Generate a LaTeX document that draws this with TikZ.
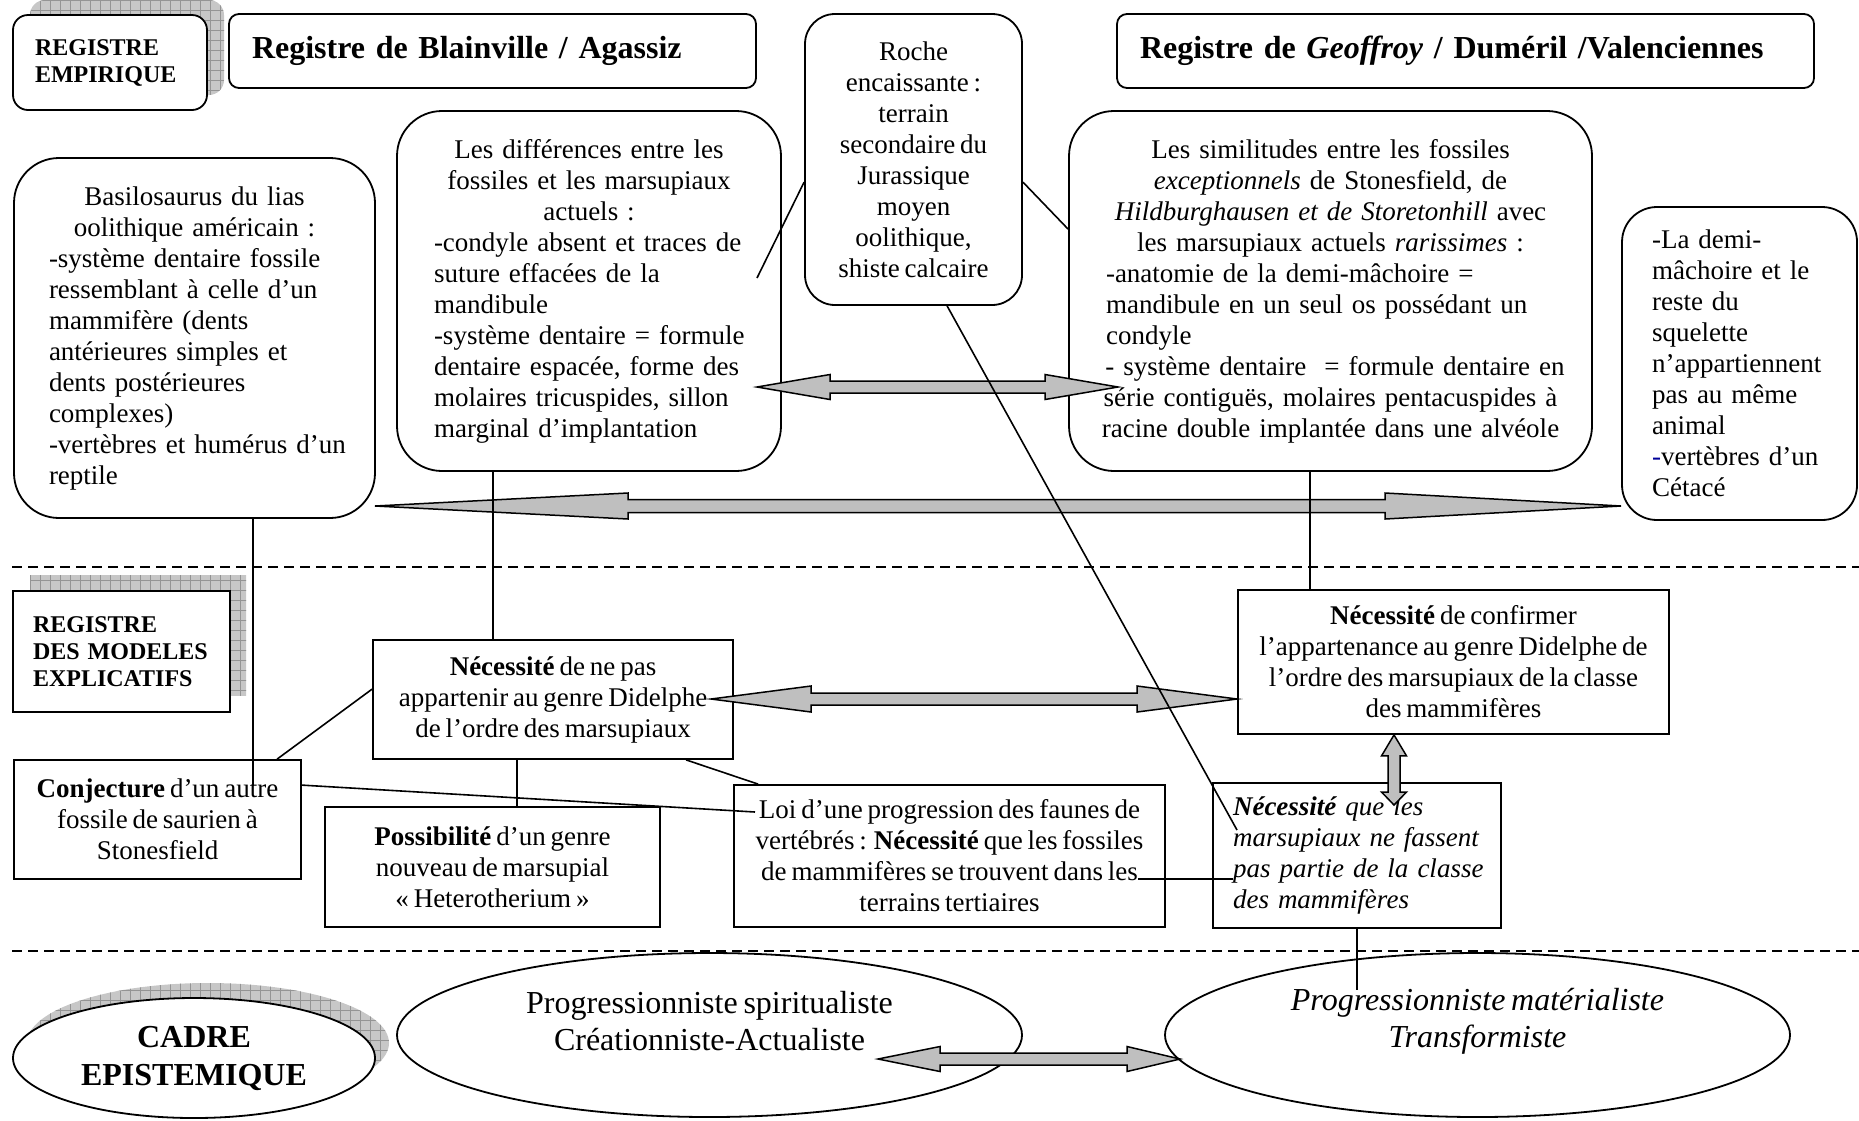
\documentclass[tikz,border=0pt]{standalone}
\usepackage{fontspec}
\setmainfont[WordSpace=0.72]{Liberation Serif}
\usetikzlibrary{calc,shapes.geometric}
\newcommand{\lnC}[1]{\makebox[\linewidth][c]{#1}}
\newcommand{\lnL}[1]{\makebox[\linewidth][l]{#1}}
\newcommand{\hfat}[6]{%
  \draw[fat] (#1) -- ($(#1)+(#3,-#5)$) -- ($(#1)+(#3,-#6)$) -- ($(#2)+(-#4,-#6)$) -- ($(#2)+(-#4,-#5)$) -- (#2)
    -- ($(#2)+(-#4,#5)$) -- ($(#2)+(-#4,#6)$) -- ($(#1)+(#3,#6)$) -- ($(#1)+(#3,#5)$) -- cycle;}
\newcommand{\vfat}[6]{%
  \draw[fat] (#1) -- ($(#1)+(#5,#3)$) -- ($(#1)+(#6,#3)$) -- ($(#2)+(#6,-#4)$) -- ($(#2)+(#5,-#4)$) -- (#2)
    -- ($(#2)+(-#5,-#4)$) -- ($(#2)+(-#6,-#4)$) -- ($(#1)+(-#6,#3)$) -- ($(#1)+(-#5,#3)$) -- cycle;}
\begin{document}
\begin{tikzpicture}[x=1pt,y=-1pt,
  txt/.style={font=\fontsize{27}{31}\selectfont},
  lab/.style={font=\fontsize{24}{27}\selectfont\bfseries},
  head/.style={font=\fontsize{32}{37}\selectfont\bfseries},
  big/.style={font=\fontsize{32}{37}\selectfont},
  rbox/.style={draw, line width=1.8pt, fill=white, inner sep=0pt, rounded corners=#1},
  rbox/.default=20pt,
  sbox/.style={draw, line width=1.8pt, fill=white, inner sep=0pt},
  ell/.style={draw, ellipse, line width=1.8pt, fill=white, inner sep=0pt},
  conn/.style={line width=1.6pt},
  fat/.style={draw, line width=1.5pt, fill=black!25, line join=miter},
  sepline/.style={line width=1.5pt, dash pattern=on 10pt off 6pt},
  shgrid/.style={draw=black!42, line width=0.5pt},
]
\useasboundingbox (0,0) rectangle (1859,1120);

% ---- shadows of the register labels
\begin{scope}
  \clip[rounded corners=15pt] (30,0) rectangle (224,95);
  \fill[black!22] (0,-20) rectangle (300,200);
  \draw[shgrid, step=10pt] (20,-20) grid (240,110);
\end{scope}
\begin{scope}
  \clip (30,575) rectangle (246,695);
  \fill[black!22] (0,560) rectangle (300,720);
  \draw[shgrid, step=10pt] (20,560) grid (260,710);
\end{scope}
\begin{scope}
  \clip (208,1043) ellipse [x radius=181, y radius=60];
  \fill[black!22] (0,960) rectangle (420,1120);
  \draw[shgrid, step=10pt] (0,960) grid (420,1120);
\end{scope}

% ---- top row
\node[rbox=15pt, lab, minimum width=194pt, minimum height=95pt, text width=150pt, align=left] (emp) at (110,62.5)
  {REGISTRE\\EMPIRIQUE\\[-4pt]};
\node[rbox=10pt, head, minimum width=527pt, minimum height=74pt, text width=481pt, align=left] (blain) at (492.5,51) {Registre de Blainville / Agassiz};
\node[rbox=30pt, txt, minimum width=217pt, minimum height=291pt, align=center] (roche) at (913.5,159.5)
  {Roche\\encaissante :\\terrain\\secondaire du\\Jurassique\\moyen\\oolithique,\\shiste calcaire};
\node[rbox=10pt, head, minimum width=697pt, minimum height=74pt, text width=651pt, align=left] (geof) at (1465.5,51)
  {Registre de \textit{Geoffroy} / Duméril /Valenciennes};

% ---- empirical register
\node[rbox=45pt, txt, minimum width=361pt, minimum height=360pt, text width=291pt, align=left] (basil) at (194.5,338)
  {\lnC{Basilosaurus du lias}\\
   \lnC{oolithique américain :}\\
   \lnL{-système dentaire fossile}\\
   \lnL{ressemblant à celle d’un}\\
   \lnL{mammifère (dents}\\
   \lnL{antérieures simples et}\\
   \lnL{dents postérieures}\\
   \lnL{complexes)}\\
   \lnL{-vertèbres et humérus d’un}\\
   \lnL{reptile}};
\node[rbox=45pt, txt, minimum width=384pt, minimum height=360pt, text width=310pt, align=left] (diff) at (589,291)
  {\lnC{Les différences entre les}\\
   \lnC{fossiles et les marsupiaux}\\
   \lnC{actuels :}\\
   \lnL{-condyle absent et traces de}\\
   \lnL{suture effacées de la}\\
   \lnL{mandibule}\\
   \lnL{-système dentaire = formule}\\
   \lnL{dentaire espacée, forme des}\\
   \lnL{molaires tricuspides, sillon}\\
   \lnL{marginal d’implantation}};
\node[rbox=45pt, txt, minimum width=523pt, minimum height=360pt, text width=449pt, align=left] (simil) at (1330.5,291)
  {\lnC{Les similitudes entre les fossiles}\\
   \lnC{\textit{exceptionnels} de Stonesfield, de}\\
   \lnC{\textit{Hildburghausen et de Storetonhill} avec}\\
   \lnC{les marsupiaux actuels \textit{rarissimes} :}\\
   \lnL{-anatomie de la demi-mâchoire =}\\
   \lnL{mandibule en un seul os possédant un}\\
   \lnL{condyle}\\
   \lnC{\ - système dentaire \ = formule dentaire en}\\
   \lnC{série contiguës, molaires pentacuspides à}\\
   \lnC{racine double implantée dans une alvéole}};
\node[rbox=35pt, txt, minimum width=235pt, minimum height=313pt, text width=175pt, align=left] (right) at (1739.5,363.5)
  {\lnL{-La demi-}\\\lnL{mâchoire et le}\\\lnL{reste du}\\\lnL{squelette}\\\lnL{n’appartiennent}\\\lnL{pas au même}\\\lnL{animal}\\\lnL{\textcolor{blue!60!black}{-}vertèbres d’un}\\\lnL{Cétacé}};

% ---- explanatory models register
\node[sbox, line width=2.2pt, lab, minimum width=217pt, minimum height=121pt, text width=177pt, align=left] (modl) at (121.5,651.5)
  {REGISTRE\\DES MODELES\\EXPLICATIFS\\[-8pt]};
\node[sbox, txt, minimum width=360pt, minimum height=119pt, align=center] (ndnp) at (553,699.5)
  {\textbf{Nécessité} de ne pas\\appartenir au genre Didelphe\\de l’ordre des marsupiaux};
\node[sbox, txt, minimum width=431pt, minimum height=144pt, align=center] (ndc) at (1453.5,662)
  {\textbf{Nécessité} de confirmer\\l’appartenance au genre Didelphe de\\l’ordre des marsupiaux de la classe\\des mammifères};
\node[sbox, txt, minimum width=287pt, minimum height=119pt, align=center] (conj) at (157.5,819.5)
  {\textbf{Conjecture} d’un autre\\fossile de saurien à\\Stonesfield};
\node[sbox, txt, minimum width=335pt, minimum height=120pt, align=center] (poss) at (492.5,867)
  {\textbf{Possibilité} d’un genre\\nouveau de marsupial\\« Heterotherium »};
\node[sbox, txt, minimum width=431pt, minimum height=142pt, align=center] (loi) at (949.5,856)
  {Loi d’une progression des faunes de\\vertébrés : \textbf{Nécessité} que les fossiles\\de mammifères se trouvent dans les\\terrains tertiaires};
\node[sbox, txt, minimum width=288pt, minimum height=145pt, text width=248pt, align=left] (nqm) at (1357,855.5)
  {\lnL{\textit{\textbf{Nécessité} que les}}\\\lnL{\textit{marsupiaux ne fassent}}\\\lnL{\textit{pas partie de la classe}}\\\lnL{\textit{des mammifères}}};

% ---- epistemic frame
\node[ell, minimum width=362pt, minimum height=120pt, align=center, font=\fontsize{32}{38}\selectfont\bfseries] (cadre) at (194,1058)
  {CADRE\\EPISTEMIQUE};
\node[ell, minimum width=625pt, minimum height=164pt] (spir) at (709.5,1035) {};
\node[big, align=center] (spirtxt) at (709.5,1021) {Progressionniste spiritualiste\\Créationniste-Actualiste};
\node[ell, minimum width=625pt, minimum height=164pt] (mater) at (1477.5,1035) {};
\node[align=center, font=\fontsize{32}{37}\selectfont\itshape] (matertxt) at (1477.5,1021) {Progressionniste matérialiste\\Transformiste};

% ---- fat double arrows
\coordinate (bigL) at (375,506);
\coordinate (bigR) at (right.west |- bigL);
\hfat{bigL}{bigR}{253}{236}{13}{6.5}
\coordinate (midL) at (757,387);
\coordinate (midR) at (1118,387);
\hfat{midL}{midR}{73}{73}{12.5}{6}
\coordinate (nL) at (711,699);
\coordinate (nR) at (ndc.west |- nL);
\hfat{nL}{nR}{100}{100}{13}{6}
\coordinate (vx) at (1394,0);
\coordinate (vT) at (ndc.south -| vx);
\coordinate (vB) at (1394,805);
\vfat{vT}{vB}{21}{13}{12.5}{6}
\coordinate (bL) at (878,1059);
\coordinate (bR) at (1180,1059);
\hfat{bL}{bR}{62}{53}{12.5}{6}

% ---- thin connectors
\coordinate (a1) at (757,278);
\draw[conn] (a1) -- ($(roche.north west)+(0,169)$);
\draw[conn] ($(roche.north east)+(0,169)$) -- ($(simil.north west)+(0,119)$);
\coordinate (c2) at (1237,830);
\draw[conn] ($(roche.south west)+(143,0)$) -- (c2);
\coordinate (dx) at (253,0);
\coordinate (d2) at (253,786);
\draw[conn] (basil.south -| dx) -- (d2);
\coordinate (ex) at (493,0);
\draw[conn] (diff.south -| ex) -- (ndnp.north -| ex);
\coordinate (fx) at (1310,0);
\draw[conn] (simil.south -| fx) -- (ndc.north -| fx);
\draw[conn] ($(ndnp.north west)+(0,50)$) -- ($(conj.north west)+(264,0)$);
\coordinate (hx) at (517,0);
\draw[conn] (ndnp.south -| hx) -- (poss.north -| hx);
\draw[conn] ($(ndnp.south west)+(314,0)$) -- ($(loi.north west)+(25,0)$);
\coordinate (j2) at (755,812);
\draw[conn] ($(conj.north east)+(0,26)$) -- (j2);
\coordinate (k1) at (1138,879);
\coordinate (k2) at (1233,879);
\draw[conn] (k1) -- (k2);
\coordinate (l2) at (1357,990);
\draw[conn] (nqm.south) -- (l2);

% ---- register separators
\draw[sepline] (12,567) -- (1859,567);
\draw[sepline] (12,951) -- (1859,951);
\end{tikzpicture}
\end{document}
